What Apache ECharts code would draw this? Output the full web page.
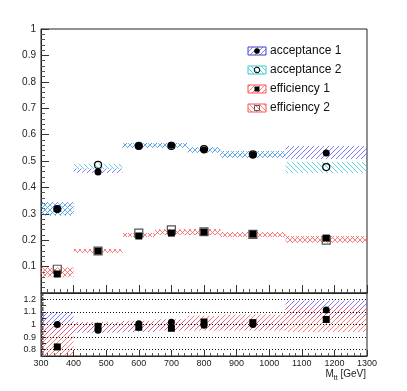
<!DOCTYPE html>
<html>
<head>
<meta charset="utf-8">
<script src="https://cdn.jsdelivr.net/npm/echarts@6/dist/echarts.min.js"></script>
<style>
  html, body { margin: 0; padding: 0; background: #fff; }
  #chart { width: 407px; height: 391px; }
</style>
</head>
<body>
<div id="chart"></div>
<script>
// bins in M_tt [GeV]
const binLo = [300, 400, 550, 650, 750, 850, 1050];
const binHi = [400, 550, 650, 750, 850, 1050, 1300];
const binMid = [350, 475, 600, 700, 800, 950, 1175];

// upper pad values
const acc1 = [0.318, 0.458, 0.557, 0.560, 0.542, 0.523, 0.530];
const acc2 = [0.318, 0.485, 0.557, 0.557, 0.545, 0.525, 0.477];
const eff1 = [0.072, 0.159, 0.216, 0.227, 0.231, 0.223, 0.208];
const eff2 = [0.090, 0.159, 0.227, 0.239, 0.232, 0.222, 0.200];

// upper pad uncertainty bands
const acc1Lo = [0.295, 0.455, 0.549, 0.549, 0.530, 0.511, 0.508];
const acc1Hi = [0.345, 0.472, 0.568, 0.568, 0.553, 0.538, 0.557];
const acc2Lo = [0.292, 0.470, 0.549, 0.549, 0.530, 0.511, 0.455];
const acc2Hi = [0.342, 0.490, 0.568, 0.568, 0.553, 0.538, 0.496];
const eff1Lo = [0.060, 0.152, 0.212, 0.220, 0.220, 0.212, 0.190];
const eff1Hi = [0.095, 0.167, 0.227, 0.240, 0.242, 0.231, 0.216];
const eff2Lo = [0.063, 0.152, 0.212, 0.222, 0.220, 0.212, 0.190];
const eff2Hi = [0.098, 0.167, 0.227, 0.242, 0.242, 0.231, 0.216];

// ratio pad
const accRatio = [1.000, 0.955, 1.005, 1.018, 0.995, 1.000, 1.115];
const effRatio = [0.822, 0.985, 0.978, 0.970, 1.020, 1.015, 1.040];
const accRatioLo = [0.920, 0.935, 0.940, 0.960, 0.965, 0.960, 1.050];
const accRatioHi = [1.100, 1.015, 1.025, 1.040, 1.040, 1.030, 1.190];
const effRatioLo = [0.750, 0.950, 0.950, 0.950, 0.950, 0.950, 0.940];
const effRatioHi = [1.015, 1.020, 1.030, 1.040, 1.070, 1.080, 1.140];
const ratioGuides = [0.8, 0.9, 1.0, 1.1, 1.2];

const legendNames = ['acceptance 1', 'acceptance 2', 'efficiency 1', 'efficiency 2'];

function hatch(color, dir) {
  const s = 5;
  const c = document.createElement('canvas');
  c.width = s; c.height = s;
  const g = c.getContext('2d');
  g.strokeStyle = color;
  g.lineWidth = 1;
  g.beginPath();
  if (dir === '/') {
    g.moveTo(-1, s + 1); g.lineTo(s + 1, -1);
    g.moveTo(-1, 1); g.lineTo(1, -1);
    g.moveTo(s - 1, s + 1); g.lineTo(s + 1, s - 1);
  } else {
    g.moveTo(-1, -1); g.lineTo(s + 1, s + 1);
    g.moveTo(s - 1, -1); g.lineTo(s + 1, 1);
    g.moveTo(-1, s - 1); g.lineTo(1, s + 1);
  }
  g.stroke();
  return { image: c, repeat: 'repeat' };
}

const BLUE = 'rgba(80,80,255,0.75)';
const CYAN = 'rgba(40,200,210,0.75)';
const RED = 'rgba(255,80,80,0.75)';

function bandSeries(lo, hi, fill, gridIdx) {
  return {
    type: 'custom',
    xAxisIndex: gridIdx, yAxisIndex: gridIdx,
    z: 1,
    clip: true,
    silent: true,
    data: binLo.map((b, i) => [b, binHi[i], lo[i], hi[i]]),
    renderItem: function (params, api) {
      const p0 = api.coord([api.value(0), api.value(3)]);
      const p1 = api.coord([api.value(1), api.value(2)]);
      return {
        type: 'rect',
        shape: { x: p0[0], y: p0[1], width: p1[0] - p0[0], height: p1[1] - p0[1] },
        style: { fill: fill }
      };
    }
  };
}

function markerSeries(vals, symbol, size, filled, border, gridIdx) {
  return {
    type: 'scatter',
    xAxisIndex: gridIdx, yAxisIndex: gridIdx,
    z: 5,
    symbol: symbol,
    symbolSize: size,
    silent: true,
    itemStyle: filled
      ? { color: '#000', opacity: 1 }
      : { color: 'rgba(255,255,255,0)', borderColor: border, borderWidth: 1.2, opacity: 1 },
    data: binMid.map((x, i) => [x, vals[i]])
  };
}

const axisFont = { fontFamily: 'Liberation Sans', color: '#222' };

const chart = echarts.init(document.getElementById('chart'));

// legend drawn by hand: hatched box + marker + label
const legendFills = [hatch(BLUE, '/'), hatch(CYAN, '\\'), hatch(RED, '/'), hatch(RED, '\\')];
const legendBorders = ['#4040d0', '#40c8d0', '#ff5050', '#ff5050'];
const legendGraphics = [];
legendNames.forEach((name, i) => {
  const cy = 51 + i * 19;
  legendGraphics.push({
    type: 'rect', shape: { x: 248, y: cy - 4, width: 18, height: 8 },
    style: { fill: legendFills[i], stroke: legendBorders[i], lineWidth: 1 }
  });
  if (i < 2) {
    legendGraphics.push({
      type: 'circle', shape: { cx: 257, cy: cy, r: 2.8 },
      style: i === 0 ? { fill: '#000' } : { fill: 'rgba(255,255,255,0)', stroke: '#000', lineWidth: 1 }
    });
  } else {
    legendGraphics.push({
      type: 'rect', shape: { x: 254.5, y: cy - 2.5, width: 5, height: 5 },
      style: i === 2 ? { fill: '#000' } : { fill: 'rgba(255,255,255,0)', stroke: '#555', lineWidth: 1 }
    });
  }
  legendGraphics.push({
    type: 'text', x: 270, y: cy,
    style: { text: name, fontFamily: 'Liberation Sans', fontSize: 12, fill: '#111', verticalAlign: 'middle' }
  });
});

legendGraphics.push({
  type: 'text', right: 41, top: 369,
  style: {
    text: '{a|M}{b|tt}{a| [GeV]}',
    rich: {
      a: { fontFamily: 'Liberation Sans', fontSize: 10, fill: '#222', verticalAlign: 'top' },
      b: { fontFamily: 'Liberation Sans', fontSize: 7, fill: '#222', padding: [6, 0, 0, 0], verticalAlign: 'top' }
    }
  }
});

const option = {
  animation: false,
  backgroundColor: '#fff',
  grid: [
    { left: 41, right: 40, top: 29, height: 264, show: true, borderColor: '#222', borderWidth: 1 },
    { left: 41, right: 40, top: 293, height: 63, show: true, borderColor: '#222', borderWidth: 1 }
  ],
  xAxis: [
    {
      gridIndex: 0, type: 'value', min: 300, max: 1300, interval: 100,
      axisLine: { lineStyle: { color: '#222' } },
      axisTick: { inside: true, length: 8, lineStyle: { color: '#333' } },
      minorTick: { show: true, splitNumber: 5, length: 4, lineStyle: { color: '#555' } },
      axisLabel: { show: false },
      splitLine: { show: false }
    },
    {
      gridIndex: 1, type: 'value', min: 300, max: 1300, interval: 100,
      axisLine: { lineStyle: { color: '#222' } },
      axisTick: { inside: true, length: 6, lineStyle: { color: '#333' } },
      minorTick: { show: true, splitNumber: 5, length: 3, lineStyle: { color: '#555' } },
      axisLabel: Object.assign({ fontSize: 9, margin: 3, formatter: v => String(v) }, axisFont),
      splitLine: { show: false }
    }
  ],
  yAxis: [
    {
      gridIndex: 0, type: 'value', min: 0, max: 1, interval: 0.1,
      axisLine: { lineStyle: { color: '#222' } },
      axisTick: { inside: true, length: 8, lineStyle: { color: '#333' } },
      minorTick: { show: true, splitNumber: 5, length: 4, lineStyle: { color: '#555' } },
      axisLabel: Object.assign({ fontSize: 10, margin: 5, formatter: v => v === 0 ? '' : String(+v.toFixed(1)) }, axisFont),
      splitLine: { show: false }
    },
    {
      gridIndex: 1, type: 'value', min: 0.75, max: 1.25, interval: 0.05,
      axisLine: { lineStyle: { color: '#222' } },
      axisTick: { inside: true, length: 5, lineStyle: { color: '#333' } },
      minorTick: { show: true, splitNumber: 5, length: 2.5, lineStyle: { color: '#555' } },
      axisLabel: Object.assign({
        fontSize: 9, margin: 5,
        formatter: v => {
          const t = Math.round(v * 100);
          return t % 10 === 0 && v > 0.76 && v < 1.24 ? String(t / 100) : '';
        }
      }, axisFont),
      splitLine: { show: false }
    }
  ],
  graphic: legendGraphics,
  series: [
    bandSeries(acc1Lo, acc1Hi, hatch(BLUE, '/'), 0),
    bandSeries(acc2Lo, acc2Hi, hatch(CYAN, '\\'), 0),
    bandSeries(eff1Lo, eff1Hi, hatch(RED, '/'), 0),
    bandSeries(eff2Lo, eff2Hi, hatch(RED, '\\'), 0),
    markerSeries(eff2, 'rect', 8, false, '#555', 0),
    markerSeries(eff1, 'rect', 7, true, '#000', 0),
    markerSeries(acc2, 'circle', 7, false, '#000', 0),
    markerSeries(acc1, 'circle', 7, true, '#000', 0),
    bandSeries(accRatioLo, accRatioHi, hatch(BLUE, '/'), 1),
    bandSeries(effRatioLo, effRatioHi, hatch(RED, '/'), 1),
    {
      type: 'line', xAxisIndex: 1, yAxisIndex: 1, data: [], silent: true,
      markLine: {
        symbol: 'none', silent: true, label: { show: false },
        lineStyle: { color: '#111', type: [1, 2], width: 1 },
        data: ratioGuides.map(v => ({ yAxis: v }))
      }
    },
    markerSeries(effRatio, 'rect', 7, true, '#000', 1),
    markerSeries(accRatio, 'circle', 7, true, '#000', 1)
  ]
};

chart.setOption(option);
</script>
</body>
</html>
